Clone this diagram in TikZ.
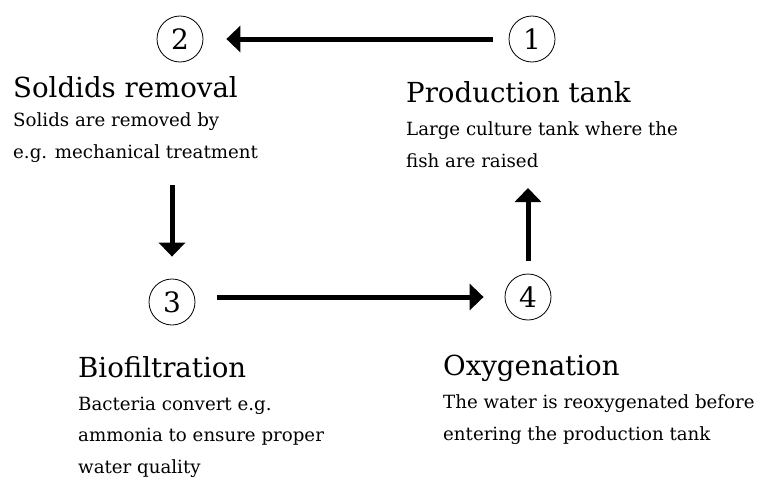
\documentclass[tikz,border=0pt]{standalone}
\usepackage{fontspec}
\setmainfont{DejaVu Serif}
\usepackage{tikz}
\usetikzlibrary{arrows.meta}

\tikzset{
  stage/.style={circle,draw,line width=0.8pt,minimum size=46pt,inner sep=0pt,
    font=\fontsize{28}{28}\selectfont},
  heading/.style={anchor=base west,inner sep=0pt,font=\fontsize{27.6}{30}\selectfont},
  detail/.style={anchor=base west,inner sep=0pt,align=left,
    font=\fontsize{18.2}{31.5}\selectfont},
  flow/.style={line width=5pt,-{Triangle[length=14pt,width=26pt]}}
}

\begin{document}
\begin{tikzpicture}[x=1pt,y=-1pt]
  \useasboundingbox (0,0) rectangle (758,479);
  % stages of the loop
  \node[stage] (c1) at (532,39) {1};
  \node[stage] (c2) at (180,39) {2};
  \node[stage] (c3) at (172,302) {3};
  \node[stage] (c4) at (528,297) {4};

  % base anchor of the notes = last line
  \node[heading] (h1) at (406,102) {Production tank};
  \node[detail] (d1) at (406,167) {Large culture tank where the\\fish are raised};
  \node[heading] (h2) at (13,97) {Soldids removal};
  \node[detail] (d2) at (13,158) {Solids are removed by\\e.g. mechanical treatment};
  \node[heading] (h3) at (78,377) {Biofiltration};
  \node[detail] (d3) at (78,473) {Bacteria convert e.g.\\ammonia to ensure proper\\water quality};
  \node[heading] (h4) at (443,375) {Oxygenation};
  \node[detail] (d4) at (443,440) {The water is reoxygenated before\\entering the production tank};

  \coordinate (t2) at (172,185);
  \coordinate (t1) at (528,188);
  \draw[flow,shorten <=16pt,shorten >=23pt] (c1) -- (c2);
  \draw[flow,shorten >=22pt] (t2) -- (c3);
  \draw[flow,shorten <=22pt,shorten >=21pt] (c3.east |- c4) -- (c4.west);
  \draw[flow,shorten <=13pt] (c4) -- (t1);
\end{tikzpicture}
\end{document}
